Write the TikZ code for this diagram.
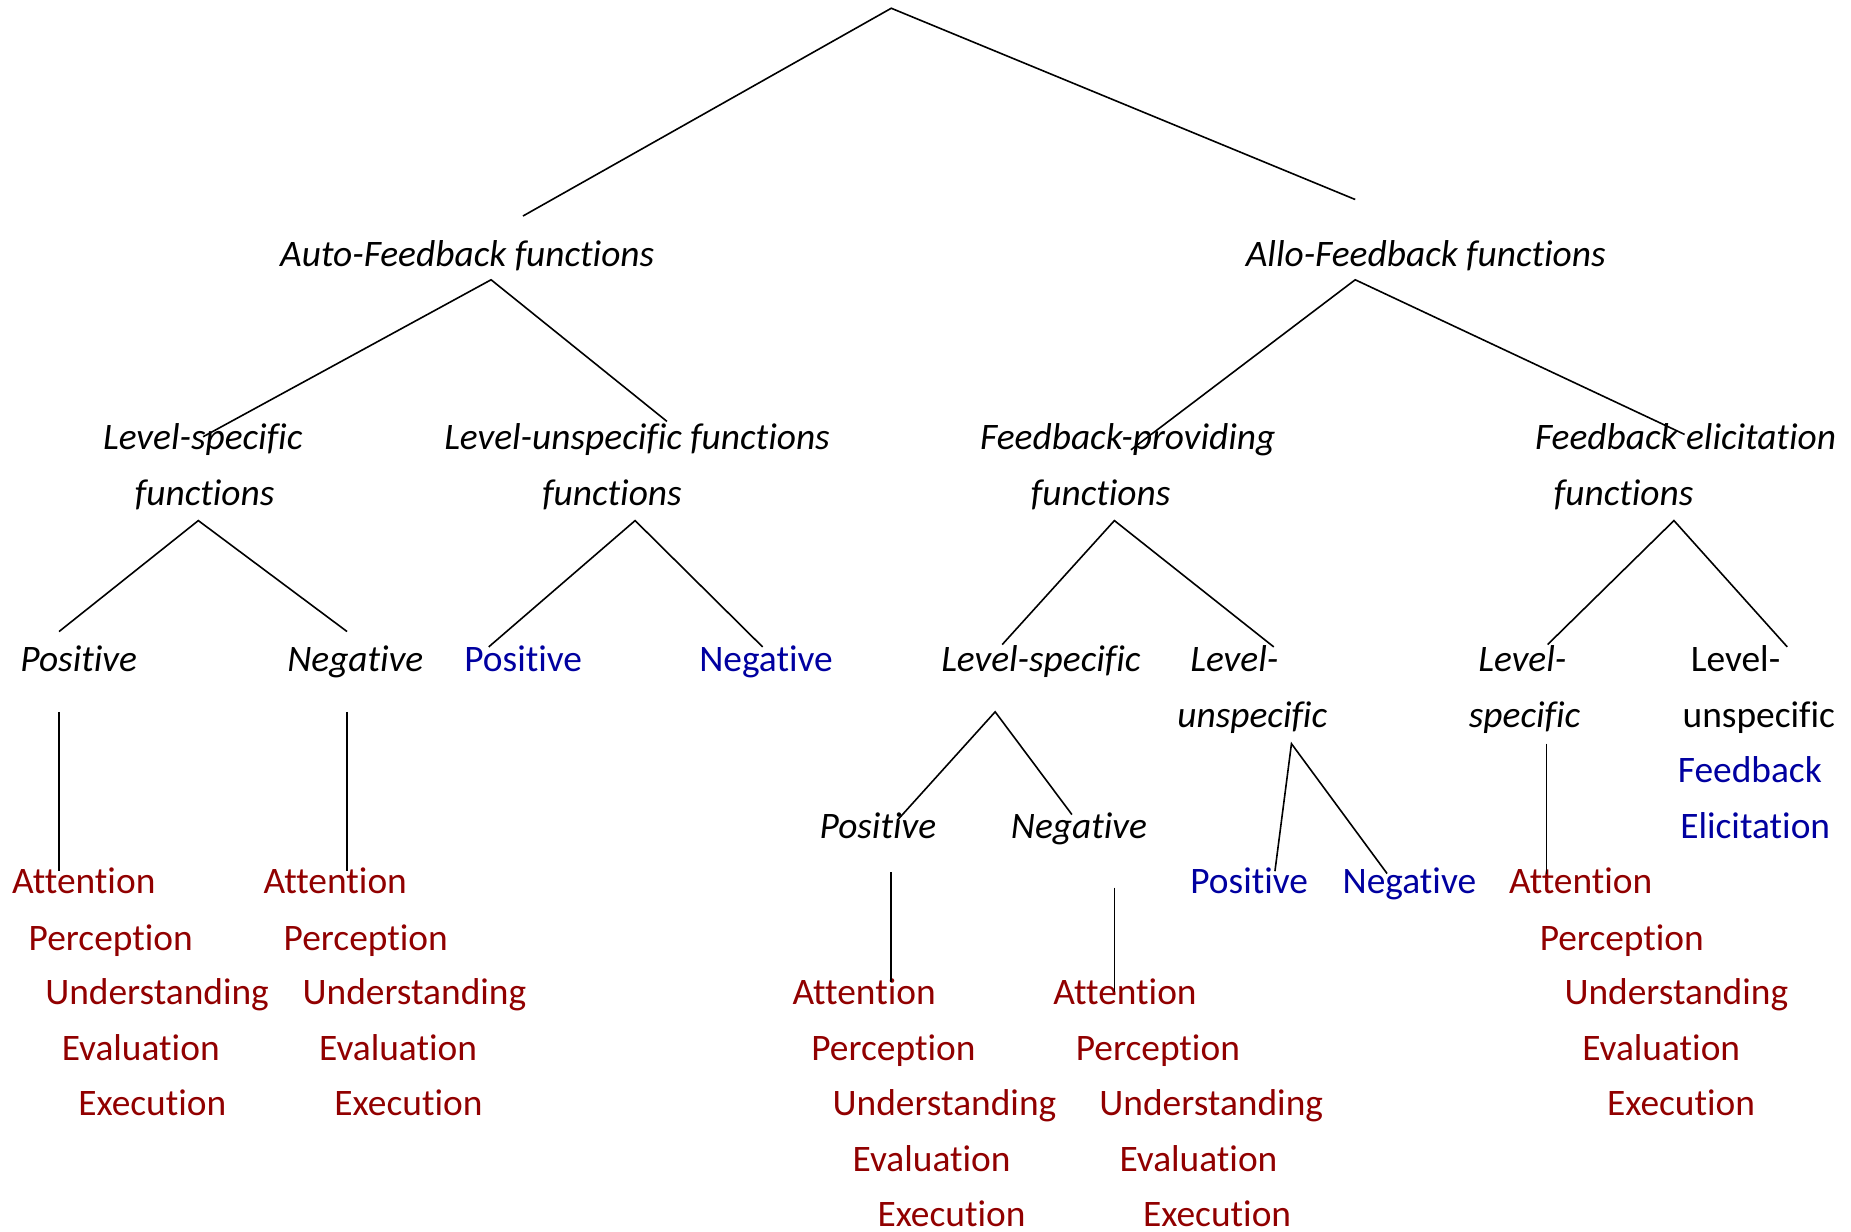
\documentclass[tikz,border=0pt]{standalone}
\usepackage{fontspec}
\setmainfont{Carlito}[Ligatures=NoCommon]
\definecolor{lvred}{RGB}{145,0,0}
\definecolor{lvblue}{RGB}{0,0,160}
\begin{document}
\begin{tikzpicture}[x=0.5903pt,y=-0.5903pt,
  lbl/.style={anchor=base west, inner sep=0pt, font=\fontsize{18.7}{22}\selectfont},
  it/.style={lbl, font=\fontsize{18.7}{22}\selectfont\itshape},
  rd/.style={lbl, text=lvred},
  bl/.style={lbl, text=lvblue},
  br/.style={line width=0.8pt}]
\useasboundingbox (0,0) rectangle (1568,1043);
% ---- text nodes
\node[it] (auto) at (237,226) {Auto-Feedback functions};
\node[it] (allo) at (1055,226) {Allo-Feedback functions};
\node[it] (ls1) at (87,381) {Level-specific};
\node[it] (lu1) at (376,381) {Level-unspecific functions};
\node[it] (fp) at (830,381) {Feedback-providing};
\node[it] (fe) at (1300,381) {Feedback elicitation};
\node[it] (f1) at (114,428) {functions};
\node[it] (f2) at (459,428) {functions};
\node[it] (f3) at (873,428) {functions};
\node[it] (f4) at (1316,428) {functions};
\node[it] (pos1) at (17,569) {Positive};
\node[it] (neg1) at (243,569) {Negative};
\node[bl] (pos2) at (393,569) {Positive};
\node[bl] (neg2) at (592,569) {Negative};
\node[it] (ls2) at (797,569) {Level-specific};
\node[it] (lu2a) at (1008,569) {Level-};
\node[it] (ls3a) at (1252,569) {Level-};
\node[lbl] (lu3a) at (1432,569) {Level-};
\node[it] (lu2b) at (997,616) {unspecific};
\node[it] (ls3b) at (1244,616) {specific};
\node[lbl] (lu3b) at (1425,616) {unspecific};
\node[bl] (fb) at (1421,663) {Feedback};
\node[it] (pos3) at (694,710) {Positive};
\node[it] (neg3) at (856,710) {Negative};
\node[bl] (el) at (1423,710) {Elicitation};
\node[bl] (pos4) at (1008,757) {Positive};
\node[bl] (neg4) at (1137,757) {Negative};
% red level lists
\node[rd] (att1) at (10,757) {Attention};
\node[rd] (per1) at (24,805) {Perception};
\node[rd] (und1) at (38,851) {Understanding};
\node[rd] (eva1) at (52,898) {Evaluation};
\node[rd] (exe1) at (66,945) {Execution};
\node[rd] (att2) at (223,757) {Attention};
\node[rd] (per2) at (240,805) {Perception};
\node[rd] (und2) at (256,851) {Understanding};
\node[rd] (eva2) at (270,898) {Evaluation};
\node[rd] (exe2) at (283,945) {Execution};
\node[rd] (att3) at (671,851) {Attention};
\node[rd] (per3) at (687,898) {Perception};
\node[rd] (und3) at (705,945) {Understanding};
\node[rd] (eva3) at (722,992) {Evaluation};
\node[rd] (exe3) at (743,1039) {Execution};
\node[rd] (att4) at (892,851) {Attention};
\node[rd] (per4) at (911,898) {Perception};
\node[rd] (und4) at (931,945) {Understanding};
\node[rd] (eva4) at (948,992) {Evaluation};
\node[rd] (exe4) at (968,1039) {Execution};
\node[rd] (att5) at (1278,757) {Attention};
\node[rd] (per5) at (1304,805) {Perception};
\node[rd] (und5) at (1325,851) {Understanding};
\node[rd] (eva5) at (1340,898) {Evaluation};
\node[rd] (exe5) at (1361,945) {Execution};
% ---- line end points
\coordinate (top) at (755,7);
\coordinate (topL) at (443,183);
\coordinate (topR) at (1148,169);
\coordinate (autoB) at (416,237);
\coordinate (ls1T) at (172,370);
\coordinate (lu1T) at (565,357);
\coordinate (alloB) at (1148,237);
\coordinate (fpT) at (958,381);
\coordinate (feT) at (1427,368);
\coordinate (f1B) at (168,441);
\coordinate (pos1T) at (50,535);
\coordinate (neg1T) at (294,535);
\coordinate (f2B) at (538,441);
\coordinate (pos2T) at (414,548);
\coordinate (neg2T) at (646,548);
\coordinate (f3B) at (944,441);
\coordinate (ls2T) at (849,546);
\coordinate (lu2T) at (1079,548);
\coordinate (f4B) at (1418,441);
\coordinate (ls3T) at (1311,546);
\coordinate (lu3T) at (1514,548);
\coordinate (pos1B) at (50,603);
\coordinate (att1T) at (50,738);
\coordinate (neg1B) at (294,603);
\coordinate (att2T) at (294,738);
\coordinate (ls2B) at (843,603);
\coordinate (pos3T) at (760,695);
\coordinate (neg3T) at (908,690);
\coordinate (lu2B) at (1094,630);
\coordinate (pos4T) at (1080,738);
\coordinate (neg4T) at (1175,740);
\coordinate (ls3B) at (1310,630);
\coordinate (att5T) at (1310,740);
\coordinate (pos3B) at (755,739);
\coordinate (att3T) at (755,832);
\coordinate (neg3B) at (944,752);
\coordinate (att4T) at (944,840);
% ---- connectors
\draw[br] (topL) -- (top) -- (topR);
\draw[br] (ls1T) -- (autoB) -- (lu1T);
\draw[br] (fpT) -- (alloB) -- (feT);
\draw[br] (pos1T) -- (f1B) -- (neg1T);
\draw[br] (pos2T) -- (f2B) -- (neg2T);
\draw[br] (ls2T) -- (f3B) -- (lu2T);
\draw[br] (ls3T) -- (f4B) -- (lu3T);
\draw[br] (pos1B) -- (att1T);
\draw[br] (neg1B) -- (att2T);
\draw[br] (pos3T) -- (ls2B) -- (neg3T);
\draw[br] (pos4T) -- (lu2B) -- (neg4T);
\draw[br] (ls3B) -- (att5T);
\draw[br] (pos3B) -- (att3T);
\draw[br] (neg3B) -- (att4T);
\end{tikzpicture}
\end{document}
